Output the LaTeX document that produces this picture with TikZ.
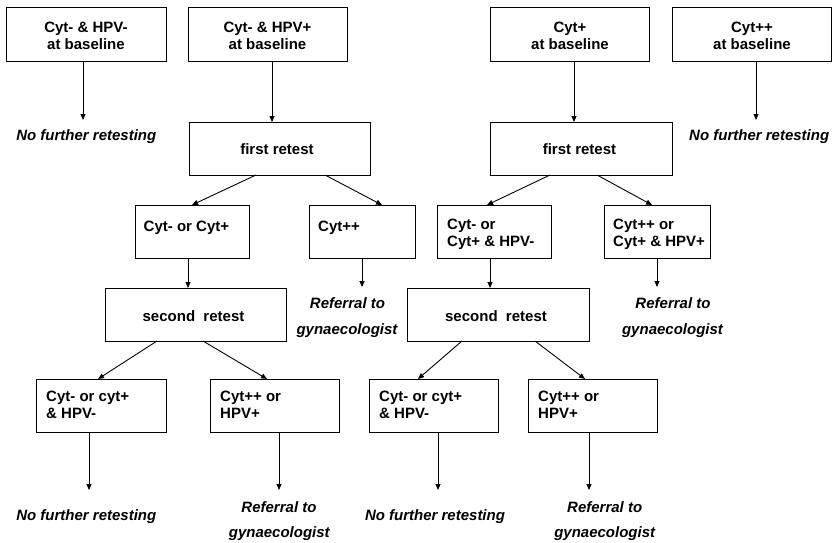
\documentclass[tikz,border=0pt]{standalone}
\usepackage{fontspec}
\setmainfont{Liberation Sans}
\usetikzlibrary{arrows.meta}
\begin{document}
\begin{tikzpicture}[x=1pt,y=-1pt,
  box/.style={draw, line width=1pt, inner sep=0pt, outer sep=0pt, minimum height=53pt},
  txt/.style={font=\fontsize{15}{17}\selectfont\bfseries, inner sep=0pt, anchor=base},
  txtl/.style={txt, anchor=base west},
  ital/.style={font=\fontsize{15}{17}\selectfont\bfseries\itshape, inner sep=0pt, anchor=base},
  arr/.style={-{Triangle[length=6pt,width=5pt]}, line width=0.9pt}]
\useasboundingbox (0,0) rectangle (832,543);
% boxes
\node[box, minimum width=160pt, minimum height=54pt] (A) at (86,35) {};
\node[box, minimum width=159pt, minimum height=54pt] (B) at (267.5,35) {};
\node[box, minimum width=159pt, minimum height=54pt] (C) at (569.5,35) {};
\node[box, minimum width=159pt, minimum height=54pt] (D) at (751.5,35) {};
\node[box, minimum width=181pt] (R1) at (279.5,148.5) {};
\node[box, minimum width=182pt] (R2) at (581,148.5) {};
\node[box, minimum width=114pt] (L1) at (192,231.5) {};
\node[box, minimum width=106pt] (L2) at (362,231.5) {};
\node[box, minimum width=114pt] (L3) at (494,231.5) {};
\node[box, minimum width=106pt] (L4) at (657,231.5) {};
\node[box, minimum width=181pt] (S1) at (195.5,314.5) {};
\node[box, minimum width=182pt] (S2) at (498,314.5) {};
\node[box, minimum width=130pt] (E) at (101,405.5) {};
\node[box, minimum width=129pt] (F) at (274.5,405.5) {};
\node[box, minimum width=129pt] (G) at (433.5,405.5) {};
\node[box, minimum width=129pt] (H) at (592.5,405.5) {};
% box texts
\node[txt] (tA1) at (86,32.7) {Cyt- \& HPV-};
\node[txt] (tA2) at (86,50) {at baseline};
\node[txt] (tB1) at (267.5,32.7) {Cyt- \& HPV+};
\node[txt] (tB2) at (267.5,50) {at baseline};
\node[txt] (tC1) at (570,32.7) {Cyt+};
\node[txt] (tC2) at (570,50) {at baseline};
\node[txt] (tD1) at (752,32.7) {Cyt++};
\node[txt] (tD2) at (752,50) {at baseline};
\node[txt] (tR1) at (277,154) {first retest};
\node[txt] (tR2) at (579.5,154) {first retest};
\node[txtl] (tL1) at (143.5,231.7) {Cyt- or Cyt+};
\node[txtl] (tL2) at (318,231.7) {Cyt++};
\node[txtl] (tL31) at (447,229.3) {Cyt- or};
\node[txtl] (tL32) at (447,246.7) {Cyt+ \& HPV-};
\node[txtl] (tL41) at (613,229.3) {Cyt++ or};
\node[txtl] (tL42) at (613,246.7) {Cyt+ \& HPV+};
\node[txt] (tS1) at (193.5,321.5) {second\ \ retest};
\node[txt] (tS2) at (496,321.5) {second\ \ retest};
\node[txtl] (tE1) at (46,401.7) {Cyt- or cyt+};
\node[txtl] (tE2) at (46,418.3) {\& HPV-};
\node[txtl] (tF1) at (220,401.7) {Cyt++ or};
\node[txtl] (tF2) at (220,418.3) {HPV+};
\node[txtl] (tG1) at (379,401.7) {Cyt- or cyt+};
\node[txtl] (tG2) at (379,418.3) {\& HPV-};
\node[txtl] (tH1) at (538,401.7) {Cyt++ or};
\node[txtl] (tH2) at (538,418.3) {HPV+};
% outcome texts
\node[ital] (nA) at (86.3,140) {No further retesting};
\node[ital] (nD) at (759.2,140) {No further retesting};
\node[ital] (rL2a) at (347.5,308) {Referral to};
\node[ital] (rL2b) at (347,334) {gynaecologist};
\node[ital] (rL4a) at (673,308) {Referral to};
\node[ital] (rL4b) at (672.5,334) {gynaecologist};
\node[ital] (nE) at (86.3,520) {No further retesting};
\node[ital] (rFa) at (279,512.7) {Referral to};
\node[ital] (rFb) at (279.3,537.7) {gynaecologist};
\node[ital] (nG) at (435,520) {No further retesting};
\node[ital] (rHa) at (604.7,512.7) {Referral to};
\node[ital] (rHb) at (604.7,537.7) {gynaecologist};
% free ends
\coordinate (eA) at (83,120);
\coordinate (eD) at (756,120);
\coordinate (eL2) at (362,287);
\coordinate (eL4) at (657,287);
\coordinate (eE) at (89,490);
\coordinate (eF) at (279,490);
\coordinate (eG) at (438,490);
\coordinate (eH) at (589,490);
% connectors
\draw[arr] (A.south -| eA) -- (eA);
\draw[arr] (B.south -| 272,0) -- (R1.north -| 272,0);
\draw[arr] (C.south -| 574,0) -- (R2.north -| 574,0);
\draw[arr] (D.south -| eD) -- (eD);
\draw[arr] (R1.south -| 256,0) -- (L1.north -| 192,0);
\draw[arr] (R1.south -| 325,0) -- (L2.north -| 382,0);
\draw[arr] (R2.south -| 550,0) -- (L3.north -| 487,0);
\draw[arr] (R2.south -| 597,0) -- (L4.north -| 652,0);
\draw[arr] (L1.south -| 188,0) -- (S1.north -| 188,0);
\draw[arr] (L2.south -| eL2) -- (eL2);
\draw[arr] (L3.south -| 490,0) -- (S2.north -| 490,0);
\draw[arr] (L4.south -| eL4) -- (eL4);
\draw[arr] (S1.south -| 157,0) -- (E.north -| 98,0);
\draw[arr] (S1.south -| 203,0) -- (F.north -| 267,0);
\draw[arr] (S2.south -| 462,0) -- (G.north -| 418,0);
\draw[arr] (S2.south -| 535,0) -- (H.north -| 585,0);
\draw[arr] (E.south -| eE) -- (eE);
\draw[arr] (F.south -| eF) -- (eF);
\draw[arr] (G.south -| eG) -- (eG);
\draw[arr] (H.south -| eH) -- (eH);
\end{tikzpicture}
\end{document}
